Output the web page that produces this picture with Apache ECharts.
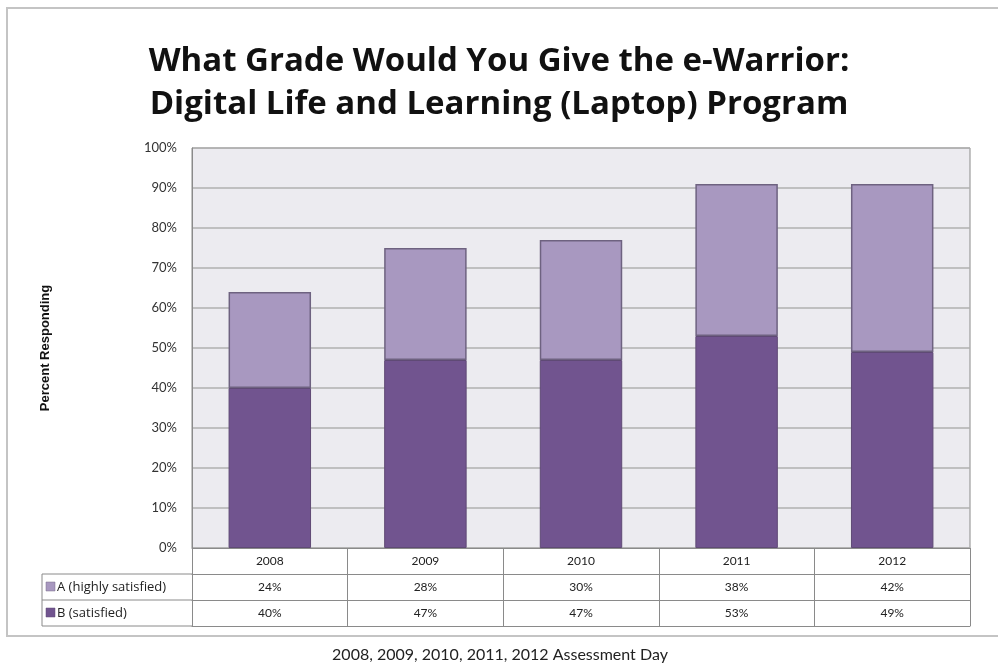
<!DOCTYPE html>
<html>
<head>
<meta charset="utf-8">
<script src="https://cdn.jsdelivr.net/npm/echarts@6/dist/echarts.min.js"></script>
<style>
  html, body { margin: 0; padding: 0; background: #fff; }
  #main { width: 998px; height: 666px; }
</style>
</head>
<body>
<div id="main"></div>
<script>
// data
const years = ['2008', '2009', '2010', '2011', '2012']
const aHighly = [24, 28, 30, 38, 42]   // A (highly satisfied)
const bSatisfied = [40, 47, 47, 53, 49] // B (satisfied)
const seriesNames = ['A (highly satisfied)', 'B (satisfied)']
const yTicks = [0, 10, 20, 30, 40, 50, 60, 70, 80, 90, 100]

const colorA = '#a898c0'
const colorB = '#71548f'
const font = 'Lato, "Open Sans", sans-serif'
const wideFont = '"Open Sans", Lato, sans-serif'

const chart = echarts.init(document.getElementById('main'))

// table rows under the plot (header / A / B), drawn as extra x axes
const rowH = 26
const tableAxis = (offset, formatter, showLabel) => ({
  type: 'category',
  data: years,
  position: 'bottom',
  offset: offset,
  axisLine: { show: true, lineStyle: { color: '#8a8a8a', width: 1 } },
  axisTick: { show: true, interval: 0, length: rowH, lineStyle: { color: '#8a8a8a' } },
  axisLabel: {
    show: showLabel,
    interval: 0,
    margin: 7,
    color: '#222',
    fontSize: 12,
    fontFamily: font,
    formatter: formatter
  },
  splitLine: { show: false }
})

const tableLeft = 42
const gridLeft = 192
const gridBottomY = 548

chart.setOption({
  animation: false,
  backgroundColor: '#fff',
  title: {
    text: 'What Grade Would You Give the e-Warrior:\nDigital Life and Learning (Laptop) Program',
    left: 'center',
    top: 35,
    textStyle: {
      fontFamily: wideFont,
      fontWeight: 'bold',
      fontSize: 33,
      lineHeight: 43,
      color: '#111'
    }
  },
  grid: {
    left: gridLeft,
    right: 28,
    top: 148,
    bottom: 666 - gridBottomY,
    show: true,
    backgroundColor: '#ecebf0',
    borderColor: '#8a8a8a',
    borderWidth: 1
  },
  xAxis: [
    tableAxis(0, v => v, true),
    tableAxis(rowH, (v, i) => aHighly[i] + '%', true),
    tableAxis(rowH * 2, (v, i) => bSatisfied[i] + '%', true),
    {
      type: 'category', data: years, position: 'bottom', offset: rowH * 3,
      axisLine: { show: true, lineStyle: { color: '#8a8a8a' } },
      axisTick: { show: false }, axisLabel: { show: false }
    }
  ],
  yAxis: {
    type: 'value',
    min: yTicks[0],
    max: yTicks[yTicks.length - 1],
    interval: 10,
    name: 'Percent Responding',
    nameLocation: 'middle',
    nameGap: 140,
    nameRotate: 90,
    nameTextStyle: { fontFamily: 'Liberation Sans, Arial, sans-serif', fontWeight: 'bold', fontSize: 13, color: '#111' },
    axisLine: { show: true, lineStyle: { color: '#8a8a8a' } },
    axisTick: { show: false },
    axisLabel: { formatter: '{value}%', color: '#333', fontSize: 13, fontFamily: font, margin: 15 },
    splitLine: { show: true, lineStyle: { color: '#b0b0b0', width: 1.5 } }
  },
  series: [
    {
      name: seriesNames[1],
      type: 'bar',
      stack: 'grade',
      xAxisIndex: 0,
      data: bSatisfied,
      barWidth: '53%',
      itemStyle: { color: colorB, borderColor: '#5f4a75', borderWidth: 1 }
    },
    {
      name: seriesNames[0],
      type: 'bar',
      stack: 'grade',
      xAxisIndex: 0,
      data: aHighly,
      barWidth: '53%',
      itemStyle: { color: colorA, borderColor: '#6e6280', borderWidth: 1.5 }
    }
  ],
  graphic: [
    // outer chart frame (right edge runs off the picture)
    { type: 'rect', shape: { x: 7, y: 8, width: 1000, height: 628 }, style: { fill: null, stroke: '#c4c4c4', lineWidth: 2 }, silent: true },
    // left legend column of the table
    { type: 'line', shape: { x1: tableLeft, y1: gridBottomY + rowH, x2: gridLeft, y2: gridBottomY + rowH }, style: { stroke: '#8a8a8a', lineWidth: 1 } },
    { type: 'line', shape: { x1: tableLeft, y1: gridBottomY + rowH * 2, x2: gridLeft, y2: gridBottomY + rowH * 2 }, style: { stroke: '#8a8a8a', lineWidth: 1 } },
    { type: 'line', shape: { x1: tableLeft, y1: gridBottomY + rowH * 3, x2: gridLeft, y2: gridBottomY + rowH * 3 }, style: { stroke: '#8a8a8a', lineWidth: 1 } },
    { type: 'line', shape: { x1: tableLeft, y1: gridBottomY + rowH, x2: tableLeft, y2: gridBottomY + rowH * 3 }, style: { stroke: '#8a8a8a', lineWidth: 1 } },
    { type: 'rect', shape: { x: 46, y: gridBottomY + rowH + 8, width: 9, height: 9 }, style: { fill: colorA, stroke: '#7a6e8a', lineWidth: 0.5 } },
    { type: 'text', x: 57, y: gridBottomY + rowH + 13, style: { text: seriesNames[0], font: '13px ' + wideFont, fill: '#222', textVerticalAlign: 'middle' } },
    { type: 'rect', shape: { x: 46, y: gridBottomY + rowH * 2 + 8, width: 9, height: 9 }, style: { fill: colorB, stroke: '#5f4a75', lineWidth: 0.5 } },
    { type: 'text', x: 57, y: gridBottomY + rowH * 2 + 13, style: { text: seriesNames[1], font: '13px ' + wideFont, fill: '#222', textVerticalAlign: 'middle' } },
    // caption under the chart frame
    { type: 'text', x: 500, y: 655, style: { text: '2008, 2009, 2010, 2011, 2012 Assessment Day', font: '16px ' + font, fill: '#222', textAlign: 'center', textVerticalAlign: 'middle' } }
  ]
})
</script>
</body>
</html>
